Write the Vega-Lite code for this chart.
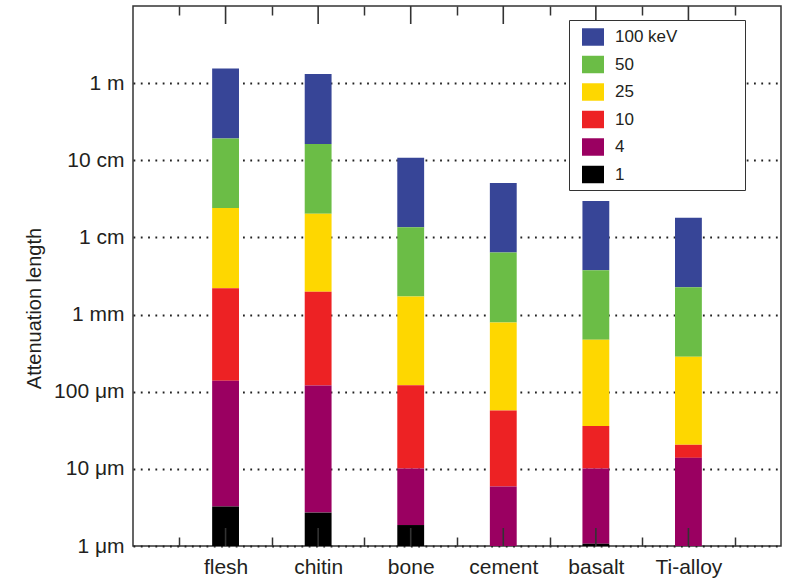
{
  "$schema": "https://vega.github.io/schema/vega-lite/v6.json",
  "width": 648,
  "height": 540,
  "autosize": "none",
  "padding": {"left": 133, "top": 6, "right": 11, "bottom": 35},
  "background": "white",
  "config": {
    "font": "Liberation Sans",
    "view": {"stroke": "#333333", "strokeWidth": 1.5}
  },
  "datasets": {
    "materials": [
      {"material": "flesh"}, {"material": "chitin"}, {"material": "bone"},
      {"material": "cement"}, {"material": "basalt"}, {"material": "Ti-alloy"}
    ]
  },
  "data": {
    "values": [
      {"material": "flesh", "energy": "100 keV", "lo": 0.191, "hi": 1.55},
      {"material": "flesh", "energy": "50", "lo": 0.024, "hi": 0.191},
      {"material": "flesh", "energy": "25", "lo": 0.0022, "hi": 0.024},
      {"material": "flesh", "energy": "10", "lo": 0.000139, "hi": 0.0022},
      {"material": "flesh", "energy": "4", "lo": 0.00000324, "hi": 0.000139},
      {"material": "flesh", "energy": "1", "lo": 0.000001, "hi": 0.00000324},
      {"material": "chitin", "energy": "100 keV", "lo": 0.163, "hi": 1.31},
      {"material": "chitin", "energy": "50", "lo": 0.0203, "hi": 0.163},
      {"material": "chitin", "energy": "25", "lo": 0.00197, "hi": 0.0203},
      {"material": "chitin", "energy": "10", "lo": 0.00012, "hi": 0.00197},
      {"material": "chitin", "energy": "4", "lo": 0.00000271, "hi": 0.00012},
      {"material": "chitin", "energy": "1", "lo": 0.000001, "hi": 0.00000271},
      {"material": "bone", "energy": "100 keV", "lo": 0.0135, "hi": 0.108},
      {"material": "bone", "energy": "50", "lo": 0.00171, "hi": 0.0135},
      {"material": "bone", "energy": "25", "lo": 0.000121, "hi": 0.00171},
      {"material": "bone", "energy": "10", "lo": 0.0000101, "hi": 0.000121},
      {"material": "bone", "energy": "4", "lo": 0.00000187, "hi": 0.0000101},
      {"material": "bone", "energy": "1", "lo": 0.000001, "hi": 0.00000187},
      {"material": "cement", "energy": "100 keV", "lo": 0.0064, "hi": 0.0507},
      {"material": "cement", "energy": "50", "lo": 0.00079, "hi": 0.0064},
      {"material": "cement", "energy": "25", "lo": 0.000057, "hi": 0.00079},
      {"material": "cement", "energy": "10", "lo": 0.0000059, "hi": 0.000057},
      {"material": "cement", "energy": "4", "lo": 0.000001, "hi": 0.0000059},
      {"material": "basalt", "energy": "100 keV", "lo": 0.00376, "hi": 0.0296},
      {"material": "basalt", "energy": "50", "lo": 0.00047, "hi": 0.00376},
      {"material": "basalt", "energy": "25", "lo": 0.000036, "hi": 0.00047},
      {"material": "basalt", "energy": "10", "lo": 0.0000101, "hi": 0.000036},
      {"material": "basalt", "energy": "4", "lo": 0.00000107, "hi": 0.0000101},
      {"material": "basalt", "energy": "1", "lo": 0.000001, "hi": 0.00000107},
      {"material": "Ti-alloy", "energy": "100 keV", "lo": 0.00226, "hi": 0.018},
      {"material": "Ti-alloy", "energy": "50", "lo": 0.000285, "hi": 0.00226},
      {"material": "Ti-alloy", "energy": "25", "lo": 0.0000205, "hi": 0.000285},
      {"material": "Ti-alloy", "energy": "10", "lo": 0.0000139, "hi": 0.0000205},
      {"material": "Ti-alloy", "energy": "4", "lo": 0.000001, "hi": 0.0000139}
    ]
  },
  "layer": [
    {
      "mark": {"type": "bar", "width": {"band": 0.29}},
      "encoding": {
        "x": {
          "field": "material",
          "type": "nominal",
          "sort": ["flesh", "chitin", "bone", "cement", "basalt", "Ti-alloy"],
          "scale": {
            "domain": ["flesh", "chitin", "bone", "cement", "basalt", "Ti-alloy"],
            "paddingInner": 0,
            "paddingOuter": 0.5
          },
          "axis": {
            "orient": "bottom",
            "title": null,
            "tickBand": "extent",
            "tickSize": -9,
            "tickColor": "#333333",
            "tickWidth": 1.5,
            "domain": false,
            "grid": false,
            "labelAngle": 0,
            "labelFontSize": 21,
            "labelBaseline": "alphabetic",
            "labelPadding": 36,
            "labelColor": "#231f20"
          }
        },
        "y": {
          "field": "hi",
          "type": "quantitative",
          "scale": {"type": "log", "domain": [0.000001, 10], "nice": false},
          "axis": {
            "title": "Attenuation length",
            "titleFontSize": 20,
            "titleFontWeight": "normal",
            "titleColor": "#231f20",
            "titleX": -93,
            "titleY": 302,
            "titleBaseline": "alphabetic",
            "titleAlign": "center",
            "titleAngle": 270,
            "values": [0.000001, 0.00001, 0.0001, 0.001, 0.01, 0.1, 1],
            "labelExpr": "datum.value < 3e-6 ? '1 μm' : datum.value < 3e-5 ? '10 μm' : datum.value < 3e-4 ? '100 μm' : datum.value < 3e-3 ? '1 mm' : datum.value < 3e-2 ? '1 cm' : datum.value < 0.3 ? '10 cm' : '1 m'",
            "labelFontSize": 21,
            "labelPadding": 9,
            "labelColor": "#231f20",
            "ticks": false,
            "domain": false,
            "grid": true,
            "gridDash": [1.8, 5.5],
            "gridColor": "#222222",
            "gridWidth": 1.8
          }
        },
        "y2": {"field": "lo"},
        "color": {
          "field": "energy",
          "type": "nominal",
          "scale": {
            "domain": ["100 keV", "50", "25", "10", "4", "1"],
            "range": ["#374597", "#6bbd46", "#fed700", "#ed2224", "#9a0061", "#000000"]
          },
          "legend": {
            "title": null,
            "orient": "none",
            "legendX": 436,
            "legendY": 14,
            "zindex": 1,
            "labelFontSize": 17,
            "labelColor": "#231f20",
            "labelExpr": "datum.label + '\u00a0\u00a0\u00a0\u00a0\u00a0\u00a0\u00a0\u00a0\u00a0\u00a0\u00a0\u00a0\u00a0\u200b'",
            "symbolType": "M-1,-0.795H1V0.795H-1Z",
            "symbolSize": 484,
            "symbolStrokeWidth": 0,
            "symbolOpacity": 1,
            "symbolOffset": 7,
            "strokeColor": "#333333",
            "fillColor": "white",
            "padding": 6,
            "rowPadding": 7.5,
            "labelOffset": 11
          }
        }
      }
    },
    {
      "data": {"name": "materials"},
      "mark": {"type": "rule", "color": "#333333", "strokeWidth": 1.6},
      "encoding": {
        "x": {
          "field": "material",
          "type": "nominal",
          "axis": {
            "orient": "top",
            "title": null,
            "labels": false,
            "tickBand": "extent",
            "tickSize": -9,
            "tickColor": "#333333",
            "tickWidth": 1.5,
            "domain": false,
            "grid": false
          }
        },
        "y": {"datum": 0.000001},
        "y2": {"datum": 0.00000171}
      }
    },
    {
      "data": {"name": "materials"},
      "mark": {"type": "rule", "color": "#333333", "strokeWidth": 1.6},
      "encoding": {
        "x": {"field": "material", "type": "nominal", "axis": null},
        "y": {"datum": 5.84},
        "y2": {"datum": 10}
      }
    }
  ],
  "resolve": {"axis": {"x": "independent"}}
}
